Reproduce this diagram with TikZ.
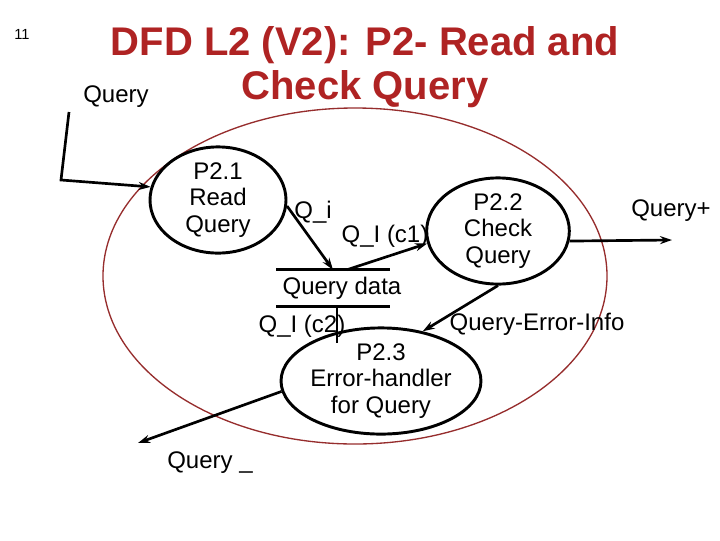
\documentclass[tikz,border=0pt]{standalone}
\usepackage{fontspec}
\setmainfont{Liberation Sans}
\usepackage{tikz}
\usetikzlibrary{positioning,calc,arrows.meta,shapes.geometric}
\usepackage{xcolor}
\definecolor{titlered}{RGB}{175,35,35}
\definecolor{ringred}{RGB}{150,45,45}

\begin{document}
\begin{tikzpicture}[x=0.75pt,y=-0.75pt,
    proc/.style={ellipse,draw,line width=2.2pt,inner sep=0pt,align=center,font=\fontsize{18}{20}\selectfont},
    store/.style={rectangle,inner sep=0pt,minimum width=85pt,minimum height=27pt},
    lbl/.style={font=\fontsize{18}{20}\selectfont,inner sep=0pt},
    flow/.style={line width=2pt,-{Stealth[length=9pt,width=6pt]}},
    line/.style={line width=2pt}]

\useasboundingbox (0,0) rectangle (720,540);

\node[font=\fontsize{11}{12}\selectfont] (num) at (22,34) {11};
\node[font=\fontsize{30}{33}\selectfont\bfseries,text=titlered,align=center] (title) at (365,67) {DFD L2 (V2): P2- Read and\\Check Query};

\draw[ringred,line width=1pt] (355,276) ellipse [x radius=252,y radius=168];

\node[proc,minimum width=102pt,minimum height=75pt] (p21) at (218,200) {P2.1\\Read\\Query};
\node[proc,minimum width=107pt,minimum height=66pt] (p22) at (498,231) {P2.2\\Check\\Query};
\node[proc,minimum width=130pt,minimum height=66pt] (p23) at (381,381) {P2.3\\Error-handler\\for Query};

\node[store] (qd) at (333,288) {};
\node[lbl] (qdtext) at (342,288) {Query data};
\draw[line] (qd.north west) -- (qd.north east) (qd.south west) -- (qd.south east);

\coordinate (qin) at (69,112);
\coordinate (qbend) at (61,180);
\coordinate (qplus) at (672,240);
\coordinate (qerr) at (138,443);

\draw[flow] (qin) -- (qbend) -- (p21.169);
\draw[flow] (p21.-5) -- (qd.north);
\draw[flow] ($(qd.north)+(14,0)$) -- (p22.190);
\draw[flow] (p22.-8) -- (qplus);
\draw[flow] (p22.south) -- (p23.50);
\draw[line] ($(qd.south)+(4,0)$) -- ($(qd.south)+(4,37)$);
\draw[flow] (p23.186) -- (qerr);

\node[lbl] (lquery) at (116,97) {Query};
\node[lbl] (lqi) at (313,212) {Q\_i};
\node[lbl] (lqc1) at (385,236) {Q\_I (c1)};
\node[lbl] (lqplus) at (671,211) {Query+};
\node[lbl] (lqerr) at (537,324) {Query-Error-Info};
\node[lbl] (lqc2) at (302,326) {Q\_I (c2)};
\node[lbl] (lqout) at (210,463) {Query \_};

\end{tikzpicture}
\end{document}
